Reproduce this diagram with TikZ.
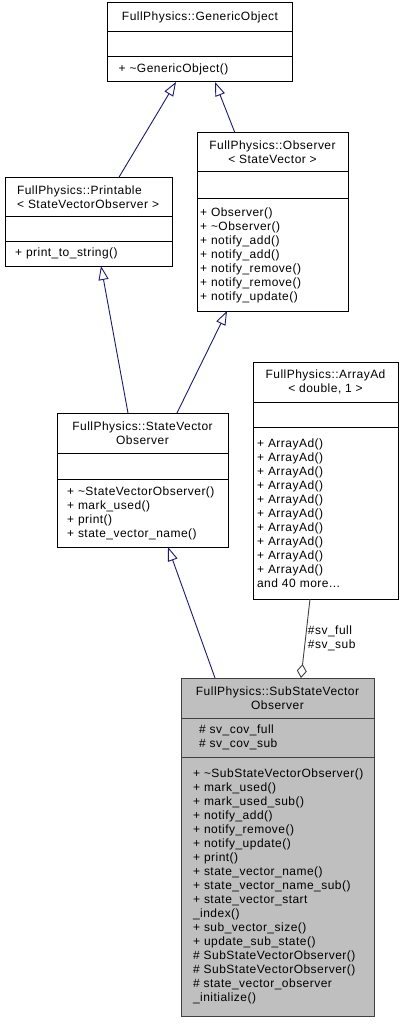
\documentclass[tikz,border=0pt]{standalone}
\usepackage{fontspec}
\setmainfont{Liberation Sans}[LetterSpace=4]
\usetikzlibrary{arrows.meta, positioning}
\definecolor{inhedge}{HTML}{191970}
\definecolor{aggedge}{HTML}{404040}
\definecolor{curfill}{HTML}{BFBFBF}
\definecolor{curedge}{HTML}{404040}

\begin{document}
\begin{tikzpicture}[x=1pt, y=-1pt,
  cls/.style={rectangle, draw=black, fill=white, line width=1pt, outer sep=0pt,
              inner sep=0pt, align=center, font=\fontsize{12}{14}\selectfont},
  attr/.style={cls, align=left},
  ops/.style={cls, align=left},
  cur/.style={draw=curedge, fill=curfill},
  inh/.style={draw=inhedge, line width=0.9pt,
              -{Triangle[open, length=14pt, width=10pt]}},
  agg/.style={draw=aggedge, line width=0.9pt,
              {Diamond[open, length=14pt, width=10pt]}-},
  lab/.style={font=\fontsize{12}{14}\selectfont, align=left, inner sep=2pt},
]
\useasboundingbox (0,0) rectangle (403,1024);
% ---- FullPhysics::GenericObject ----
\node[cls, minimum width=185pt, minimum height=29pt] (gobj) at (200,17.5)
  {FullPhysics::GenericObject};
\node[attr, minimum width=185pt, minimum height=25pt, below=0pt of gobj] (gobj-a) {};
\node[ops, minimum width=185pt, minimum height=25pt, text width=163pt, inner xsep=11pt,
  below=0pt of gobj-a] (gobj-o) {+ \textasciitilde GenericObject()};
% ---- FullPhysics::Printable ----
\node[cls, align=left, minimum width=167pt, minimum height=39pt, text width=143pt,
  inner xsep=12pt] (print) at (88.5,197.5)
  {FullPhysics::Printable\\< StateVectorObserver >};
\node[attr, minimum width=167pt, minimum height=24pt, below=0pt of print] (print-a) {};
\node[ops, minimum width=167pt, minimum height=25pt, text width=147pt, inner xsep=10pt,
  below=0pt of print-a] (print-o) {+ print\_to\_string()};
% ---- FullPhysics::Observer<StateVector> ----
\node[cls, minimum width=151pt, minimum height=39pt] (obs) at (272.5,152.5)
  {FullPhysics::Observer\\< StateVector >};
\node[attr, minimum width=151pt, minimum height=27pt, below=0pt of obs] (obs-a) {};
\node[ops, minimum width=151pt, minimum height=112pt, text width=145pt, inner xsep=3pt,
  below=0pt of obs-a] (obs-o)
  {+ Observer()\\+ \textasciitilde Observer()\\+ notify\_add()\\+ notify\_add()\\
   + notify\_remove()\\+ notify\_remove()\\+ notify\_update()};
% ---- FullPhysics::ArrayAd<double,1> ----
\node[cls, minimum width=145pt, minimum height=40pt] (arr) at (325.5,382)
  {FullPhysics::ArrayAd\\< double, 1 >};
\node[attr, minimum width=145pt, minimum height=25pt, below=0pt of arr] (arr-a) {};
\node[ops, minimum width=145pt, minimum height=172pt, text width=137pt, inner xsep=4pt,
  below=0pt of arr-a] (arr-o)
  {+ ArrayAd()\\+ ArrayAd()\\+ ArrayAd()\\+ ArrayAd()\\+ ArrayAd()\\+ ArrayAd()\\
   + ArrayAd()\\+ ArrayAd()\\+ ArrayAd()\\+ ArrayAd()\\and 40 more...};
% ---- FullPhysics::StateVectorObserver ----
\node[cls, minimum width=171pt, minimum height=40pt] (svo) at (142.5,433)
  {FullPhysics::StateVector\\Observer};
\node[attr, minimum width=171pt, minimum height=26pt, below=0pt of svo] (svo-a) {};
\node[ops, minimum width=171pt, minimum height=68pt, text width=151pt, inner xsep=10pt,
  below=0pt of svo-a] (svo-o)
  {+ \textasciitilde StateVectorObserver()\\+ mark\_used()\\+ print()\\
   + state\_vector\_name()};
% ---- FullPhysics::SubStateVectorObserver (current) ----
\node[cls, cur, minimum width=193pt, minimum height=40pt] (sub) at (277.5,698)
  {FullPhysics::SubStateVector\\Observer};
\node[attr, cur, minimum width=193pt, minimum height=39pt, text width=157pt,
  inner xsep=18pt, below=0pt of sub] (sub-a) {\# sv\_cov\_full\\\# sv\_cov\_sub};
\node[ops, cur, minimum width=193pt, minimum height=259pt, text width=169pt,
  inner xsep=12pt, below=0pt of sub-a] (sub-o)
  {+ \textasciitilde SubStateVectorObserver()\\+ mark\_used()\\+ mark\_used\_sub()\\
   + notify\_add()\\+ notify\_remove()\\+ notify\_update()\\+ print()\\
   + state\_vector\_name()\\+ state\_vector\_name\_sub()\\+ state\_vector\_start\\
   \_index()\\+ sub\_vector\_size()\\+ update\_sub\_state()\\
   \# SubStateVectorObserver()\\\# SubStateVectorObserver()\\
   \# state\_vector\_observer\\\_initialize()};
% ---- inheritance ----
\draw[inh] ([xshift=30pt]print.north) -- ([xshift=-24pt]gobj-o.south);
\draw[inh] ([xshift=-37.5pt]obs.north) -- ([xshift=15pt]gobj-o.south);
\draw[inh] ([xshift=-14.5pt]svo.north) -- ([xshift=12.5pt]print-o.south);
\draw[inh] ([xshift=34.5pt]svo.north) -- ([xshift=-45.5pt]obs-o.south);
\draw[inh] ([xshift=-62.5pt]sub.north) -- ([xshift=25.5pt]svo-o.south);
% ---- aggregation ----
\draw[agg] ([xshift=23.5pt]sub.north) -- node[lab, right] {\#sv\_full\\\#sv\_sub}
  ([xshift=-15.5pt]arr-o.south);
\end{tikzpicture}
\end{document}
